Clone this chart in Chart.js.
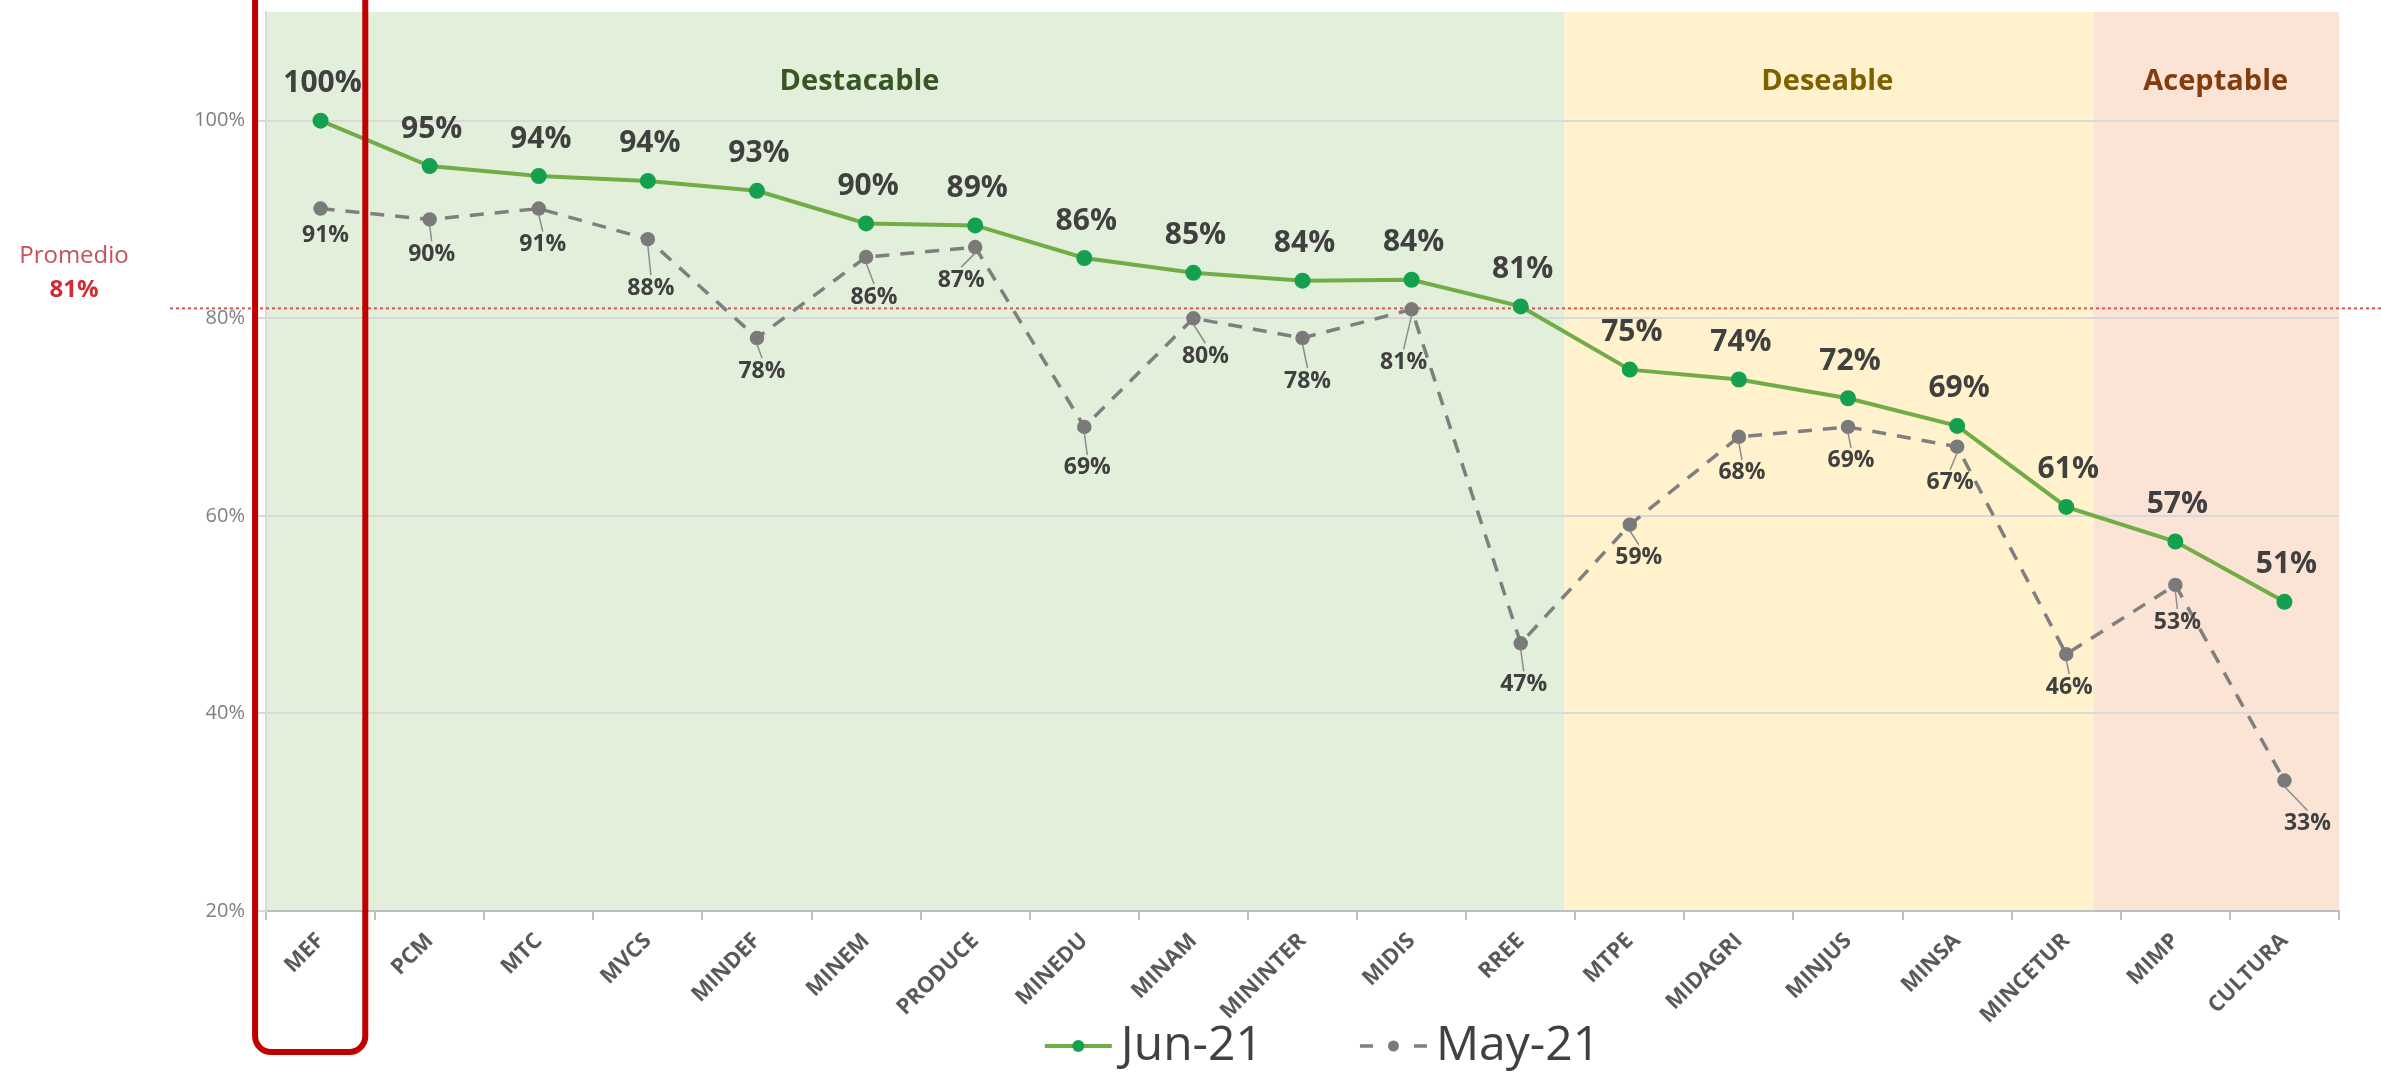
<!DOCTYPE html>
<html>
<head>
<meta charset="utf-8">
<script src="https://cdn.jsdelivr.net/npm/chart.js@4.4.0/dist/chart.umd.min.js"></script>
<style>
  html, body { margin: 0; padding: 0; background: #fff; }
  canvas { display: block; }
</style>
</head>
<body>
<canvas id="chart" width="2381" height="1074"></canvas>
<script>
const categories = ['MEF', 'PCM', 'MTC', 'MVCS', 'MINDEF', 'MINEM', 'PRODUCE', 'MINEDU', 'MINAM', 'MININTER',
  'MIDIS', 'RREE', 'MTPE', 'MIDAGRI', 'MINJUS', 'MINSA', 'MINCETUR', 'MIMP', 'CULTURA'];
const jun21 = [100, 95.4, 94.4, 93.9, 92.9, 89.6, 89.4, 86.1, 84.6, 83.8, 83.9, 81.2, 74.8, 73.8, 71.9, 69.1, 60.9, 57.4, 51.3];
const may21 = [91.1, 90, 91.1, 88, 78, 86.2, 87.2, 69, 80, 78, 80.9, 47.1, 59.1, 68, 69, 67, 46, 53, 33.2];
const seriesNames = ['Jun-21', 'May-21'];
const yTicks = [20, 40, 60, 80, 100];
const promedio = 81;

// zones (category units)
const bandNames = ['Destacable', 'Deseable', 'Aceptable'];
const bandEdges = [-0.5, 11.4, 16.25, 18.5];
const bandLabelAt = [4.94, 13.81, 17.37];
const bandFill = ['#e2efda', '#fff2cc', '#fbe4d5'];
const bandText = ['#375623', '#7f6000', '#843c0c'];

// nudges for the May-21 labels (px)
const mayLabelDx = [5, 2, 4, 3, 5, 8, -14, 3, 12, 5, -8, 3, 9, 3, 3, -7, 3, 2, 23];
const mayLabelDy = [27, 35, 36, 49, 33, 40, 33, 41, 38, 43, 53, 41, 33, 36, 34, 36, 33, 37, 43];

const FONT = '"Open Sans", sans-serif';
Chart.defaults.font.family = FONT;

const bandsPlugin = {
  id: 'bands',
  beforeDraw(chart) {
    const ctx = chart.ctx, a = chart.chartArea, x = chart.scales.x;
    ctx.save();
    bandNames.forEach((name, i) => {
      const x0 = Math.max(a.left, x.getPixelForValue(bandEdges[i]));
      const x1 = Math.min(a.right, x.getPixelForValue(bandEdges[i + 1]));
      ctx.fillStyle = bandFill[i];
      ctx.fillRect(x0, a.top, x1 - x0, a.bottom - a.top);
      ctx.fillStyle = bandText[i];
      ctx.font = 'bold 29px ' + FONT;
      ctx.textAlign = 'center';
      ctx.textBaseline = 'middle';
      ctx.fillText(name, x.getPixelForValue(bandLabelAt[i]), a.top + 70);
    });
    ctx.restore();
  }
};

const promedioPlugin = {
  id: 'promedio',
  beforeDatasetsDraw(chart) {
    const ctx = chart.ctx, y = chart.scales.y.getPixelForValue(promedio);
    ctx.save();
    ctx.strokeStyle = '#d9534f';
    ctx.lineWidth = 2;
    ctx.setLineDash([3, 3]);
    ctx.beginPath();
    ctx.moveTo(170, y);
    ctx.lineTo(chart.width, y);
    ctx.stroke();
    ctx.textAlign = 'center';
    ctx.textBaseline = 'middle';
    ctx.fillStyle = '#c9505a';
    ctx.font = '24px ' + FONT;
    ctx.fillText('Promedio', 74, y - 52);
    ctx.fillStyle = '#d42a35';
    ctx.font = 'bold 24px ' + FONT;
    ctx.fillText(promedio + '%', 74, y - 18);
    ctx.restore();
  }
};

const labelsPlugin = {
  id: 'pointLabels',
  afterDatasetsDraw(chart) {
    const ctx = chart.ctx;
    const jun = chart.getDatasetMeta(0).data;
    const may = chart.getDatasetMeta(1).data;
    ctx.save();
    ctx.textAlign = 'center';
    ctx.textBaseline = 'middle';
    ctx.fillStyle = '#404040';
    ctx.font = 'bold 30px ' + FONT;
    jun.forEach((p, i) => ctx.fillText(Math.round(jun21[i]) + '%', p.x + 2, p.y - 37));
    ctx.font = 'bold 23px ' + FONT;
    may.forEach((p, i) => {
      const lx = p.x + mayLabelDx[i], ly = p.y + mayLabelDy[i];
      if (mayLabelDy[i] > 30) {
        ctx.strokeStyle = '#8c8c8c';
        ctx.lineWidth = 1.5;
        ctx.beginPath();
        ctx.moveTo(p.x, p.y + 6);
        ctx.lineTo(lx, ly - 13);
        ctx.stroke();
      }
      ctx.fillText(Math.round(may21[i]) + '%', lx, ly);
    });
    ctx.restore();
  }
};

const boxPlugin = {
  id: 'mefBox',
  afterDraw(chart) {
    const ctx = chart.ctx, x = chart.scales.x;
    const x0 = x.getPixelForValue(-0.6), x1 = x.getPixelForValue(0.41);
    ctx.save();
    ctx.strokeStyle = '#c00000';
    ctx.lineWidth = 6;
    ctx.beginPath();
    ctx.roundRect(x0, -30, x1 - x0, 1082, 16);
    ctx.stroke();
    ctx.restore();
  }
};

const legendPlugin = {
  id: 'bottomLegend',
  afterDraw(chart) {
    const ctx = chart.ctx, a = chart.chartArea;
    const y = 1046, symW = 67, gapText = 9, gapItems = 97;
    ctx.save();
    ctx.font = '48px ' + FONT;
    const widths = seriesNames.map(t => ctx.measureText(t).width);
    const total = widths.reduce((s, w) => s + symW + gapText + w, 0) + gapItems;
    let x = (a.left + a.right) / 2 + 20 - total / 2;
    chart.data.datasets.forEach((ds, i) => {
      ctx.strokeStyle = ds.borderColor;
      ctx.lineWidth = ds.borderWidth;
      ctx.setLineDash(ds.borderDash ? [13, 41] : []);
      ctx.beginPath();
      ctx.moveTo(x, y);
      ctx.lineTo(x + symW, y);
      ctx.stroke();
      ctx.setLineDash([]);
      ctx.fillStyle = ds.pointBackgroundColor;
      ctx.beginPath();
      ctx.arc(x + symW / 2, y, ds.pointRadius, 0, Math.PI * 2);
      ctx.fill();
      ctx.fillStyle = '#404040';
      ctx.textAlign = 'left';
      ctx.textBaseline = 'middle';
      ctx.fillText(seriesNames[i], x + symW + gapText, y);
      x += symW + gapText + widths[i] + gapItems;
    });
    ctx.restore();
  }
};

new Chart(document.getElementById('chart').getContext('2d'), {
  type: 'line',
  data: {
    labels: categories,
    datasets: [{
      label: seriesNames[0],
      data: jun21,
      borderColor: '#70ad47',
      borderWidth: 4,
      pointRadius: 6,
      pointBackgroundColor: '#14a04f',
      pointBorderColor: '#14a04f',
      tension: 0
    }, {
      label: seriesNames[1],
      data: may21,
      borderColor: '#7f7f7f',
      borderWidth: 3.5,
      borderDash: [14, 11],
      pointRadius: 5.5,
      pointBackgroundColor: '#7a7a7a',
      pointBorderColor: '#7a7a7a',
      tension: 0
    }]
  },
  options: {
    responsive: false,
    animation: false,
    devicePixelRatio: 1,
    layout: { padding: { top: 12, right: 42, bottom: 0, left: 0 } },
    plugins: {
      legend: { display: false },
      tooltip: { enabled: false }
    },
    scales: {
      x: {
        offset: true,
        grid: { drawOnChartArea: false, offset: true, color: '#bfbfbf', lineWidth: 2, tickLength: 9 },
        border: { color: '#bfbfbf', width: 2 },
        ticks: {
          autoSkip: false, maxRotation: 45, minRotation: 45, padding: 8,
          color: '#595959', font: { size: 22, weight: 'bold' }
        },
        afterFit: s => { s.height = 163; }
      },
      y: {
        min: 20,
        max: 111,
        afterBuildTicks: s => { s.ticks = yTicks.map(v => ({ value: v })); },
        grid: { color: '#d9d9d9', lineWidth: 2, tickLength: 8 },
        border: { color: '#d9d9d9', width: 2 },
        ticks: { padding: 13, color: '#7f7f7f', font: { size: 20 }, callback: v => v + '%' },
        afterFit: s => { s.width = 266; s.paddingTop = 0; }
      }
    }
  },
  plugins: [bandsPlugin, promedioPlugin, labelsPlugin, boxPlugin, legendPlugin]
});
</script>
</body>
</html>
